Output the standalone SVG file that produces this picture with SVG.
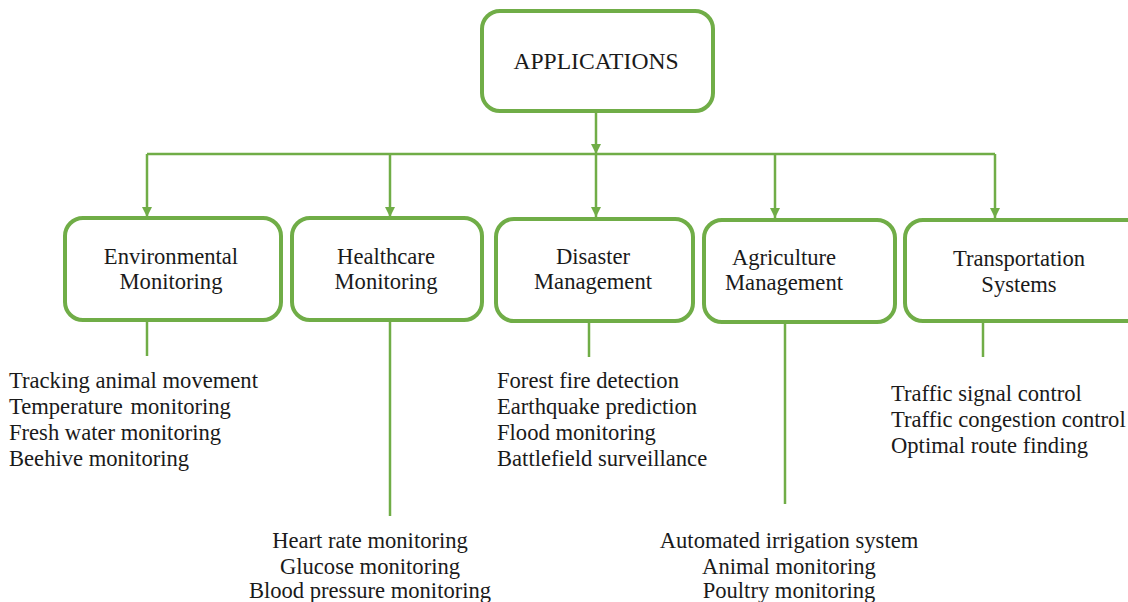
<svg xmlns="http://www.w3.org/2000/svg" width="1128" height="602" viewBox="0 0 1128 602">
  <defs>
    <marker id="arrow" viewBox="0 0 10 10" refX="10" refY="5" markerWidth="10" markerHeight="10" markerUnits="userSpaceOnUse" orient="auto">
      <path d="M0,0 L10,5 L0,10 Z" fill="#70AD47"/>
    </marker>
    <style>
      .box { fill: #ffffff; stroke: #70AD47; stroke-width: 4; }
      .wire { fill: none; stroke: #70AD47; stroke-width: 2.5; }
      .mid { text-anchor: middle; }
    </style>
  </defs>

  <rect width="1128" height="602" fill="#ffffff"/>

  <!-- connectors -->
  <g id="connectors">
    <line class="wire" x1="596" y1="111" x2="596" y2="154" marker-end="url(#arrow)"/>
    <line class="wire" x1="596" y1="154" x2="596" y2="217" marker-end="url(#arrow)"/>
    <line class="wire" x1="147" y1="154" x2="995" y2="154"/>
    <line class="wire" x1="147" y1="154" x2="147" y2="217" marker-end="url(#arrow)"/>
    <line class="wire" x1="390" y1="154" x2="390" y2="217" marker-end="url(#arrow)"/>
    <line class="wire" x1="775" y1="154" x2="775" y2="218" marker-end="url(#arrow)"/>
    <line class="wire" x1="995" y1="154" x2="995" y2="218" marker-end="url(#arrow)"/>
    <!-- stems below category boxes -->
    <line class="wire" x1="147" y1="320" x2="147" y2="356"/>
    <line class="wire" x1="390" y1="320" x2="390" y2="516"/>
    <line class="wire" x1="589" y1="321" x2="589" y2="357"/>
    <line class="wire" x1="785" y1="322" x2="785" y2="504"/>
    <line class="wire" x1="983" y1="321" x2="983" y2="357"/>
  </g>

  <g font-family="'Liberation Serif', 'Times New Roman', serif" font-size="22.6" fill="#1a1a1a">
    <g id="applications">
      <rect class="box" x="482" y="11" width="231" height="100" rx="18"/>
      <text class="mid" x="596" y="69" font-size="23.6">APPLICATIONS</text>
    </g>

    <g id="environmental">
      <rect class="box" x="65" y="218" width="216" height="102" rx="18"/>
      <text class="mid" x="171" y="264">Environmental</text>
      <text class="mid" x="171" y="289">Monitoring</text>
    </g>

    <g id="healthcare">
      <rect class="box" x="292" y="218" width="190" height="102" rx="18"/>
      <text class="mid" x="386" y="264">Healthcare</text>
      <text class="mid" x="386" y="289">Monitoring</text>
    </g>

    <g id="disaster">
      <rect class="box" x="496" y="219" width="197" height="102" rx="18"/>
      <text class="mid" x="593" y="264">Disaster</text>
      <text class="mid" x="593" y="289">Management</text>
    </g>

    <g id="agriculture">
      <rect class="box" x="704" y="220" width="191" height="102" rx="18"/>
      <text class="mid" x="784" y="265">Agriculture</text>
      <text class="mid" x="784" y="290">Management</text>
    </g>

    <g id="transportation">
      <rect class="box" x="905" y="220" width="240" height="101" rx="18"/>
      <text class="mid" x="1019" y="266">Transportation</text>
      <text class="mid" x="1019" y="292">Systems</text>
    </g>

    <g id="environmental-items">
      <text x="9" y="388">Tracking animal movement</text>
      <text x="9" y="414" word-spacing="2">Temperature monitoring</text>
      <text x="9" y="440">Fresh water monitoring</text>
      <text x="9" y="466">Beehive monitoring</text>
    </g>

    <g id="healthcare-items">
      <text class="mid" x="370" y="548">Heart rate monitoring</text>
      <text class="mid" x="370" y="574">Glucose monitoring</text>
      <text class="mid" x="370" y="598">Blood pressure monitoring</text>
    </g>

    <g id="disaster-items">
      <text x="497" y="388">Forest fire detection</text>
      <text x="497" y="414">Earthquake prediction</text>
      <text x="497" y="440">Flood monitoring</text>
      <text x="497" y="466">Battlefield surveillance</text>
    </g>

    <g id="agriculture-items">
      <text class="mid" x="789" y="548">Automated irrigation system</text>
      <text class="mid" x="789" y="574">Animal monitoring</text>
      <text class="mid" x="789" y="598">Poultry monitoring</text>
    </g>

    <g id="transportation-items">
      <text x="891" y="401">Traffic signal control</text>
      <text x="891" y="427">Traffic congestion control</text>
      <text x="891" y="453">Optimal route finding</text>
    </g>
  </g>
</svg>
